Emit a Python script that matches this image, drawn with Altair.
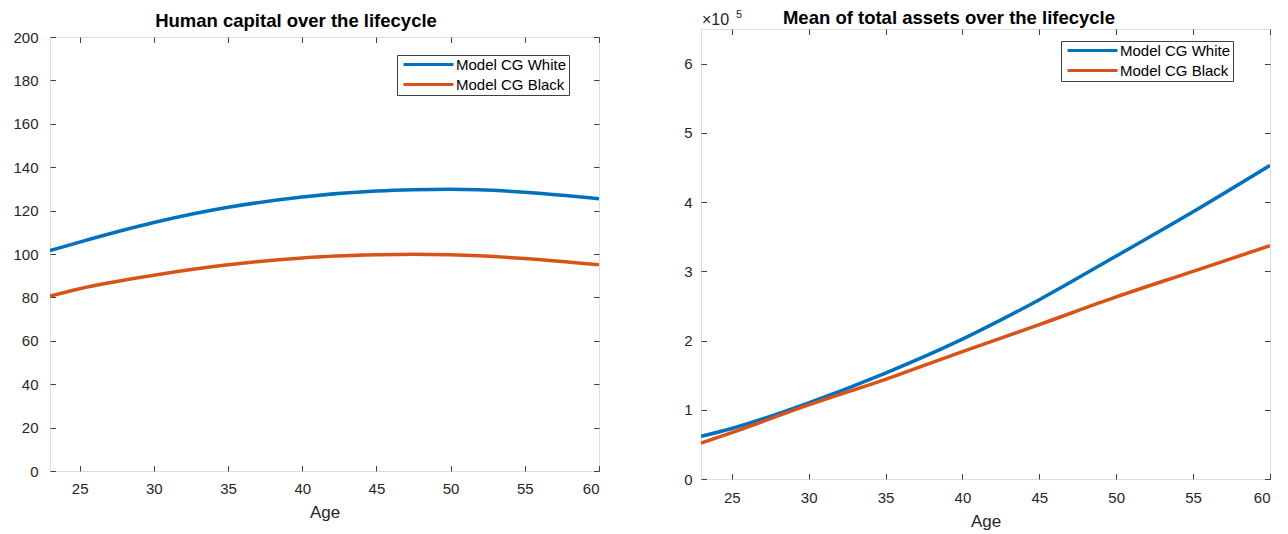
import altair as alt
import pandas as pd

# ---- data ----
ages_hc = [23, 25, 30, 35, 40, 45, 47.5, 50, 55, 60]
hc_white = [101.6, 105.5, 114.5, 121.5, 126.3, 129.0, 129.6, 129.8, 128.5, 125.5]
hc_black = [80.6, 84.0, 90.2, 95.0, 98.2, 99.6, 99.9, 99.6, 97.9, 95.0]

ages_as = [23, 25, 30, 35, 40, 45, 50, 55, 60]
as_white = [61600, 73000, 110000, 153000, 202000, 259000, 322000, 386000, 453000]
as_black = [52000, 67000, 107000, 144000, 184000, 223000, 263000, 300000, 337000]

series = ["Model CG White", "Model CG Black"]
colors = ["#0072BD", "#D95319"]
x_ticks = [25, 30, 35, 40, 45, 50, 55, 60]
hc_ticks = [0, 20, 40, 60, 80, 100, 120, 140, 160, 180, 200]
as_ticks = [0, 100000, 200000, 300000, 400000, 500000, 600000]
titles = ["Human capital over the lifecycle", "Mean of total assets over the lifecycle"]

FONT = "Liberation Sans"
AX = "#404040"
TXT = "#262626"
TS = 5.5


def long_df(ages, a, b):
    rows = []
    for x, v in zip(ages, a):
        rows.append({"age": x, "val": v, "series": series[0]})
    for x, v in zip(ages, b):
        rows.append({"age": x, "val": v, "series": series[1]})
    return pd.DataFrame(rows)


def axis(orient, values, labels=True, title=None, pad=10, label_expr=None, title_pad=6):
    kw = dict(orient=orient, values=values, domain=False, grid=False,
              tickSize=TS, offset=-TS, tickColor=AX, tickWidth=1,
              labels=labels, labelFont=FONT, labelFontSize=15, labelColor=TXT,
              labelPadding=pad, title=title, titleFont=FONT, titleFontSize=17,
              titleFontWeight="normal", titleColor=TXT, titlePadding=title_pad)
    if label_expr:
        kw["labelExpr"] = label_expr
    return alt.Axis(**kw)


def text_layer(txt, x, y, size, bold=False, align="center", color="#000"):
    return alt.Chart(pd.DataFrame({"t": [txt]})).mark_text(
        align=align, baseline="alphabetic", font=FONT, fontSize=size,
        fontWeight="bold" if bold else "normal", color=color,
    ).encode(x=alt.value(x), y=alt.value(y), text="t:N")


def panel(df, xdom, ydom, yticks, w, h, legend_xy, ylabel_expr=None,
          xpad=10, ypad=10, title_pad=9, extra=None):
    color = alt.Color("series:N", scale=alt.Scale(domain=series, range=colors),
                      legend=alt.Legend(orient="none", legendX=legend_xy[0], legendY=legend_xy[1],
                                        title=None, symbolType="M-5,0H5", symbolSize=100,
                                        symbolStrokeWidth=3, labelFontSize=15, labelFont=FONT,
                                        labelColor="#000", strokeColor=AX, fillColor="white",
                                        padding=2, rowPadding=4, symbolOffset=22, labelOffset=20))
    base = alt.Chart(df)
    lines = base.mark_line(strokeWidth=3.5, interpolate="monotone", clip=True).encode(
        x=alt.X("age:Q", scale=alt.Scale(domain=xdom, nice=False, zero=False),
                axis=axis("bottom", x_ticks, title="Age", pad=xpad, title_pad=title_pad)),
        y=alt.Y("val:Q", scale=alt.Scale(domain=ydom, nice=False),
                axis=axis("left", yticks, pad=ypad, label_expr=ylabel_expr)),
        color=color,
        order=alt.Order("age:Q"),
        detail="series:N",
    )
    mirror = base.mark_line(opacity=0).encode(
        x=alt.X("age:Q", axis=axis("top", x_ticks, labels=False)),
        y=alt.Y("val:Q", axis=axis("right", yticks, labels=False)),
        detail="series:N",
    )
    layers = [lines, mirror] + (extra or [])
    return alt.layer(*layers).resolve_axis(x="independent", y="independent").properties(
        width=w, height=h)


left = panel(long_df(ages_hc, hc_white, hc_black), [23, 60], [0, 200], hc_ticks, 549, 434,
             (347, 18), xpad=10, ypad=12, title_pad=8,
             extra=[text_layer(titles[0], 246, -10, 18.5, bold=True)])

right = panel(long_df(ages_as, as_white, as_black), [23, 60], [0, 650000], as_ticks, 569, 450,
              (360, 12), ylabel_expr="format(datum.value / 100000, 'd')", xpad=11, ypad=9,
              title_pad=8,
              extra=[text_layer(titles[1], 248, -5, 18.5, bold=True),
                     text_layer("×10", 1, -4, 16, align="left", color=TXT),
                     text_layer("5", 35, -11, 11, align="left", color=TXT)])

chart = alt.hconcat(left, right, spacing=102, bounds="flush", center=True).resolve_scale(
    color="independent").resolve_legend(color="independent").configure_view(
    stroke=AX, strokeWidth=1).configure(background="white").properties(
    padding={"left": 4, "top": 0, "right": 5, "bottom": 0})

chart.save("out.html", embed_options={"renderer": "svg", "actions": False})
